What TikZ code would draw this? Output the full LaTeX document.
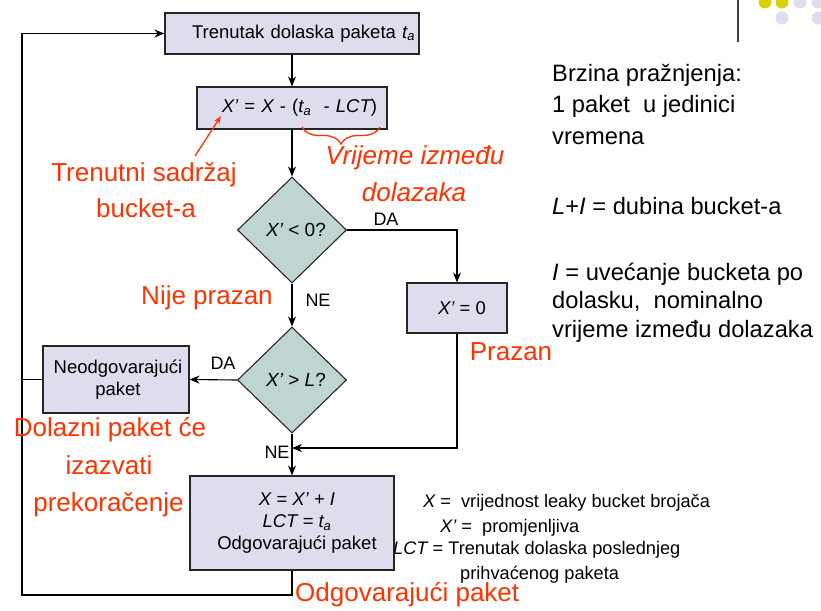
\documentclass[tikz,border=0pt]{standalone}
\usepackage{fontspec}
\setmainfont{Liberation Sans}
\usetikzlibrary{shapes.geometric,arrows.meta,decorations.pathreplacing}
\definecolor{boxfill}{RGB}{221,221,238}
\definecolor{diafill}{RGB}{191,213,210}
\definecolor{redc}{RGB}{255,51,0}
\definecolor{dotyel}{RGB}{214,212,0}
\definecolor{dotlav}{RGB}{221,221,238}
\newcommand\myfs[2]{\fontsize{#1}{#2}\selectfont}
\begin{document}
\begin{tikzpicture}[x=1pt,y=-1pt,
  box/.style={draw=black!85, fill=boxfill, line width=1.1pt, inner sep=0pt, font=\myfs{18.5}{22}},
  dia/.style={diamond, draw=black!85, fill=diafill, line width=1.1pt, inner sep=0pt,
    minimum width=109pt, minimum height=106pt, font=\myfs{19}{22}},
  arr/.style={-{Stealth[length=10pt,width=8pt]}, line width=1.1pt},
  conn/.style={line width=1.1pt},
  lbl/.style={font=\myfs{18}{22}, inner sep=0pt},
  redtxt/.style={text=redc, font=\myfs{26}{30}, inner sep=0pt, text height=0.75em, text depth=0.25em},
  side/.style={font=\myfs{23.7}{28}, inner sep=0pt, anchor=west, text height=0.75em, text depth=0.25em},
  legend/.style={font=\myfs{18.2}{22}, inner sep=0pt, anchor=west, text height=0.75em, text depth=0.25em}
]
\useasboundingbox (0,0) rectangle (821,610);
\fill[white] (0,0) rectangle (821,610);

% decoration top right
\draw[black!75, line width=1.3pt] (738,0) -- (738,42);
\begin{scope}
\clip (0,0) rectangle (821,610);
\fill[dotyel] (765,2) circle (6.5);
\fill[dotyel] (782,2) circle (6.5);
\fill[dotlav] (800,2) circle (6.5);
\fill[dotlav] (818,2) circle (6.5);
\fill[dotlav] (782,18) circle (6.5);
\fill[dotlav] (818,18) circle (6.5);
\end{scope}

% flowchart nodes
\node[box, minimum width=254pt, minimum height=41pt, text width=246pt, align=right, inner xsep=4pt] (b1) at (292,33.5)
  {Trenutak dolaska paketa {\itshape t}\textsubscript{\itshape a}};
\node[box, minimum width=190pt, minimum height=42pt, text width=170pt, align=right, inner xsep=10pt] (b2) at (292,108)
  {{\itshape X’} = {\itshape X} - ({\itshape t}\textsubscript{\itshape a}\,\, - {\itshape LCT})};
\node[dia] (d1) at (292,230) {\hspace*{8pt}{\itshape X’} < 0?};
\node[dia] (d2) at (292,380) {\hspace*{8pt}{\itshape X’} > {\itshape L}?};
\node[box, minimum width=100pt, minimum height=50pt] (b3) at (457,308) {\hspace*{10pt}{\itshape X’} = 0};
\node[box, minimum width=146pt, minimum height=67pt, align=center] (b4) at (116,379.5)
  {\hspace*{4pt}Neodgovarajući\\\hspace*{4pt}paket};
\node[box, minimum width=204pt, minimum height=94pt, align=center] (b5) at (292,523)
  {\hspace*{10pt}{\itshape X = X’ + I}\\\hspace*{10pt}{\itshape LCT = t}\textsubscript{\itshape a}\\\hspace*{10pt}Odgovarajući paket};

\coordinate (lb) at (22,595);
\coordinate (lt) at (22,33.5);
\coordinate (j) at (292,448);

% connectors
\draw[arr] (b1.south) -- (b2.north);
\draw[arr] (b2.south) -- (d1.north);
\draw[arr] (d1.east) -| (b3.north);
\draw[arr] (d1.south) -- (d2.north);
\draw[arr] (d2.west) -- (b4.east);
\draw[arr] (d2.south) -- (b5.north);
\draw[arr] (b3.south) |- (j);
\draw[arr] (b5.south) |- (lb) -- (lt) -- (b1.west);
\draw[conn] (b4.west) -- (b4.west -| lb);

% connector labels
\node[lbl] (la1) at (386,219) {DA};
\node[lbl] (ln1) at (318,300) {NE};
\node[lbl] (la2) at (223,363) {DA};
\node[lbl] (ln2) at (277,452) {NE};

% red annotations
\node[redtxt] (r1) at (144,179) {Trenutni sadržaj};
\node[redtxt] (r2) at (146,215) {bucket-a};
\node[redtxt, font=\myfs{26}{30}\itshape] (r3) at (415,162) {Vrijeme između};
\node[redtxt, font=\myfs{26}{30}\itshape] (r4) at (414,199) {dolazaka};
\node[redtxt] (r5) at (207,302) {Nije prazan};
\node[redtxt] (r6) at (511,358) {Prazan};
\node[redtxt] (r7) at (110,434) {Dolazni paket će};
\node[redtxt] (r8) at (109,472) {izazvati};
\node[redtxt] (r9) at (108.5,509) {prekoračenje};
\node[redtxt, anchor=west] (r10) at (295,599) {Odgovarajući paket};

\coordinate (oa1) at (195,156);
\coordinate (oa2) at (221,116);
\draw[redc, line width=1.3pt, -{Stealth[length=8pt,width=6pt]}] (oa1) -- (oa2);
\coordinate (br1) at (380,127);
\coordinate (br2) at (302,127);
\draw[redc, line width=1.3pt, decorate, decoration={brace, amplitude=17pt}] (br1) -- (br2);

% right side text
\node[side] (s1) at (552,79) {Brzina pražnjenja:};
\node[side] (s2) at (552,110) {1 paket\ \ u jedinici};
\node[side] (s3) at (552,142) {vremena};
\node[side] (s4) at (552,212) {{\itshape L}+{\itshape I} = dubina bucket-a};
\node[side] (s5) at (552,278) {{\itshape I} = uvećanje bucketa po};
\node[side] (s6) at (552,306) {dolasku,\ \ nominalno};
\node[side] (s7) at (552,335) {vrijeme između dolazaka};

% legend
\node[legend] (g1) at (423,505) {{\itshape X} =\ \ vrijednost leaky bucket brojača};
\node[legend] (g2) at (440,530) {{\itshape X’} =\ \ promjenljiva};
\node[legend] (g3) at (393,552) {{\itshape LCT} = Trenutak dolaska poslednjeg};
\node[legend] (g4) at (460,577) {prihvaćenog paketa};
\end{tikzpicture}
\end{document}
